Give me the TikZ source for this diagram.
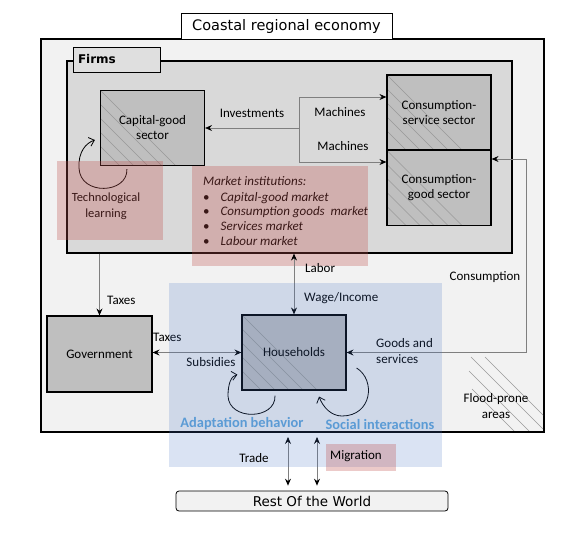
\documentclass[tikz,border=0pt]{standalone}
\usepackage{fontspec}
\setmainfont{Carlito}
\newfontfamily\boxfont{DejaVu Sans}
\usepackage{tikz}
\usetikzlibrary{arrows.meta,calc}

\definecolor{outergray}{HTML}{F2F2F2}
\definecolor{firmgray}{HTML}{D9D9D9}
\definecolor{tabgray}{HTML}{DFDFDF}
\definecolor{boxgray}{HTML}{BFBFBF}
\definecolor{linegray}{HTML}{7F7F7F}
\definecolor{instred}{HTML}{C0504D}
\definecolor{hhblue}{HTML}{4472C4}
\definecolor{loopblue}{HTML}{5B9BD5}

\tikzset{
	hatchline/.style={draw=linegray!80, line width=0.5pt},
	sector/.style={draw=black, line width=1.2pt, fill=boxgray, minimum width=104pt, minimum height=75pt,
		inner sep=0pt, align=center, font=\fontsize{13}{15}\selectfont,
		path picture={\foreach \d in {0,14,28,42,56}
			\draw[hatchline] ($(path picture bounding box.north west)+(0,\d)$) -- ++(90,90);}},
	conn/.style={draw=linegray, line width=0.7pt, {Stealth[black,length=7pt,width=6pt,inset=2.5pt]}-{Stealth[black,length=7pt,width=6pt,inset=2.5pt]}},
	toconn/.style={draw=linegray, line width=0.7pt, -{Stealth[black,length=7pt,width=6pt,inset=2.5pt]}},
	loop/.style={draw=black, line width=0.8pt, -{Straight Barb[length=5pt,width=9pt]}},
	lbl/.style={font=\fontsize{13}{15}\selectfont, inner sep=1pt},
	overlay/.style={fill opacity=0.3, draw=none},
}

\begin{document}
\begin{tikzpicture}[x=1pt,y=-1pt]
	\useasboundingbox (0,0) rectangle (579,536);

	% regional economy frame
	\node[draw=black, line width=1.4pt, fill=outergray, minimum width=503pt, minimum height=393pt, inner sep=0pt] (economy) at (292.5,235.5) {};
	\node[draw=black, line width=1pt, fill=white, minimum width=211pt, minimum height=26pt, inner sep=0pt, font=\boxfont\fontsize{14.5}{16}\selectfont] (title) at (286.5,26) {Coastal regional economy};

	% firms
	\node[draw=black, line width=1.2pt, fill=firmgray, minimum width=445pt, minimum height=192pt, inner sep=0pt] (firms) at (289.5,157) {};
	\node[draw=black, line width=1pt, fill=tabgray, minimum width=87pt, minimum height=25pt, inner sep=0pt,
		text width=77pt, align=left, font=\boxfont\bfseries\fontsize{12}{14}\selectfont] (firmstab) at (116.5,59.5) {Firms};

	\node[sector] (capital) at (152.5,128) {Capital-good\\sector};
	\node[sector] (service) at (439,112.5) {Consumption-\\service sector};
	\node[sector] (goods) at (439,188) {Consumption-\\good sector};

	\coordinate (mjunc) at (299,128);
	\coordinate (mtop) at (299,97);
	\coordinate (mbot) at (299,162);
	\draw[toconn] (mjunc) -- (capital.east);
	\draw[draw=linegray, line width=0.7pt] (mtop) -- (mbot);
	\draw[toconn] (mtop) -- (mtop -| service.west);
	\draw[toconn] (mbot) -- (mbot -| goods.west);
	\node[lbl] (invest) at (252,113) {Investments};
	\node[lbl] (mach1) at (340,112) {Machines};
	\node[lbl] (mach2) at (343,146) {Machines};

	% technological learning
	\coordinate (techA) at ($(capital.south west)+(27,3)$);
	\coordinate (techB) at ($(capital.west)+(-5,12)$);
	\draw[loop] (techA) .. controls (128,194) and (80,196) .. (79,168) .. controls (78,152) and (86,143) .. (techB);
	\node[lbl, align=center, font=\fontsize{12.5}{16}\selectfont] (techtext) at (106,206) {Technological\\learning};

	% market institutions
	\node[lbl, anchor=north west, align=left, font=\fontsize{13}{14.7}\selectfont] (markets) at (202,175)
		{\textit{Market institutions:}\\[1.3pt]
		\textbullet\hspace{11pt}\textit{Capital-good market}\\
		\textbullet\hspace{11pt}\textit{Consumption goods\ \ market}\\
		\textbullet\hspace{11pt}\textit{Services market}\\
		\textbullet\hspace{11pt}\textit{Labour market}};

	\fill[instred, overlay] (57,161) rectangle (163,240);
	\fill[instred, overlay] (192,166) rectangle (368,266);

	% government and households
	\node[draw=black, line width=1.2pt, fill=boxgray, minimum width=105pt, minimum height=76pt, inner sep=0pt,
		font=\fontsize{13}{15}\selectfont] (gov) at (99.5,354) {Government};
	\node[sector] (hh) at (294,352.5) {Households};

	\draw[toconn] (gov.north |- firms.south) -- (gov.north);
	\node[lbl, anchor=west] (taxes1) at (106,300) {Taxes};
	\draw[conn] (hh.north |- firms.south) -- (hh.north);
	\node[lbl, anchor=west] (labor) at (304,268) {Labor};
	\node[lbl, anchor=west] (wage) at (303,298) {Wage/Income};
	\draw[conn] (gov.east |- hh.west) -- (hh.west);
	\node[lbl, anchor=west] (taxes2) at (152,337) {Taxes};
	\node[lbl] (subs) at (211,362) {Subsidies};

	\coordinate (ccorner) at (526,159);
	\draw[conn] (hh.east) -| (ccorner) -- (goods.east |- ccorner);
	\node[lbl] (cons) at (485,277) {Consumption};
	\node[lbl, anchor=west, align=left, font=\fontsize{13}{16}\selectfont] (goodsserv) at (375,351) {Goods and\\services};

	\coordinate (adaptA) at ($(hh.south)+(-19,5)$);
	\coordinate (adaptB) at ($(hh.south west)+(-4,-16)$);
	\draw[loop] (adaptA) .. controls (276,420) and (229,421) .. (228,396) .. controls (228,384) and (231,376) .. (adaptB);
	\coordinate (socialA) at ($(hh.east)+(10,15.5)$);
	\coordinate (socialB) at ($(hh.south)+(25,6)$);
	\draw[loop] (socialA) .. controls (376,380) and (372,416) .. (342,416) .. controls (331,416) and (323,407) .. (socialB);

	% flood-prone areas
	\begin{scope}
		\clip (465,352) rectangle (543,430);
		\draw[hatchline] (471,357) -- ++(72,72);
		\draw[hatchline] (469,371) -- ++(62,62);
		\draw[hatchline] (472,389) -- ++(46,46);
		\draw[hatchline] (485,357) -- ++(70,70);
	\end{scope}
	\node[lbl, align=center, font=\fontsize{13}{16}\selectfont] (flood) at (496,406) {Flood-prone\\areas};

	% rest of the world
	\node[draw=black, line width=0.8pt, fill=outergray, rounded corners=3pt, minimum width=272pt, minimum height=20pt,
		inner sep=0pt, font=\boxfont\fontsize{13.5}{15}\selectfont] (world) at (312,501) {Rest Of the World};
	\coordinate (tradetop) at (288,437);
	\coordinate (migtop) at (317,437);
	\draw[conn, shorten >=5pt] (tradetop) -- (tradetop |- world.north);
	\draw[conn, shorten >=5pt] (migtop) -- (migtop |- world.north);

	% household domain
	\fill[hhblue, fill opacity=0.2] (169,283) rectangle (442,467);
	\node[lbl, text=loopblue, font=\bfseries\fontsize{14.4}{16}\selectfont] (adapt) at (242,424) {Adaptation behavior};
	\node[lbl, text=loopblue, font=\bfseries\fontsize{14.4}{16}\selectfont] (social) at (380,424) {Social interactions};
	\node[lbl] (trade) at (254,458) {Trade};
	\fill[instred, overlay] (326,444) rectangle (396,471);
	\node[lbl] (migration) at (356,456) {Migration};
\end{tikzpicture}
\end{document}
